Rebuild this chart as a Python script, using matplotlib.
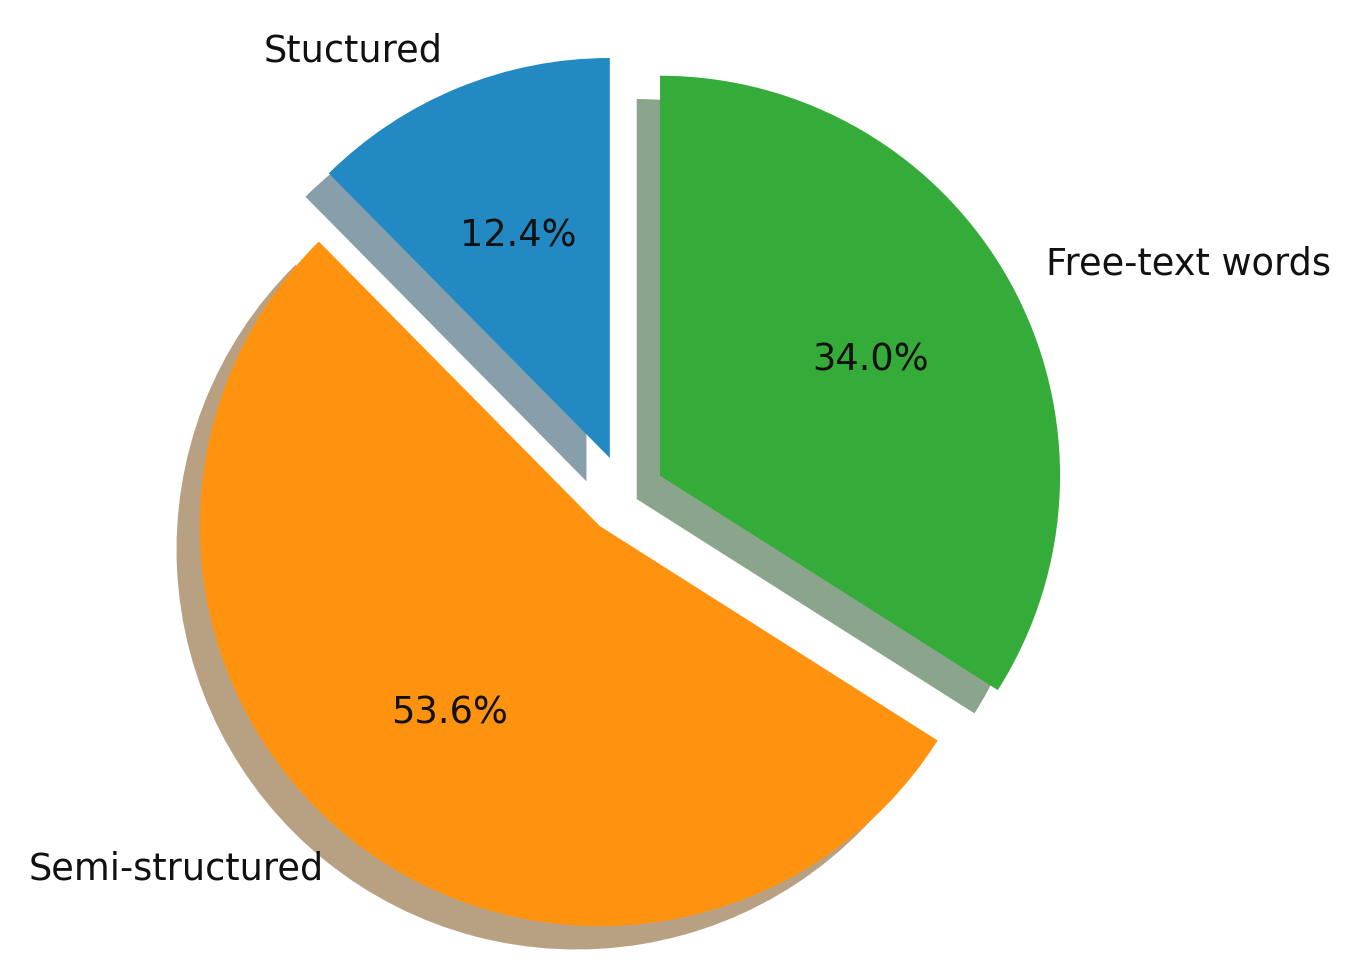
import matplotlib
matplotlib.use("Agg")
import matplotlib.pyplot as plt

labels = ['Stuctured', 'Semi-structured', 'Free-text words']
sizes = [12.4, 53.6, 34.0]
colors = ['#2389c3', '#ff930f', '#35ac3a']
explode = [0.1, 0.1, 0.1]

fig = plt.figure(figsize=(13.72, 9.8), dpi=100)
ax = fig.add_axes([0, 0, 1, 1])

ax.pie(sizes, labels=labels, colors=colors, explode=explode,
       autopct='%1.1f%%', startangle=90, counterclock=True,
       shadow={'ox': -0.042, 'oy': -0.042, 'shade': 0.55,
               'edgecolor': 'none', 'linewidth': 0},
       textprops={'fontsize': 26.5, 'color': '#111111'})

# place the pie the way it sits in the picture (400 px per unit)
scale = 400.0
cx, cy = 625.0, 495.0
ax.set_aspect('auto')
ax.set_xlim(-cx / scale, (1372 - cx) / scale)
ax.set_ylim(-(980 - cy) / scale, cy / scale)
ax.axis('off')

fig.savefig('out.png', dpi=100)
